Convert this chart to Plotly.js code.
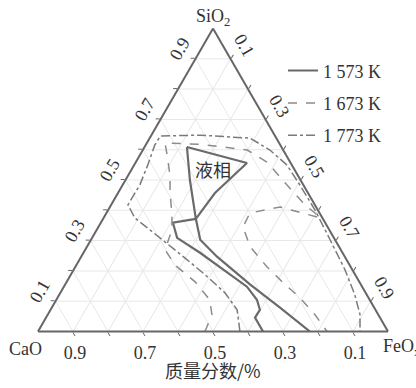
<!DOCTYPE html>
<html>
<head>
<meta charset="utf-8">
<script src="https://cdn.plot.ly/plotly-3.0.1.min.js"></script>
<style>html,body{margin:0;padding:0;background:#fff;}#plot{width:416px;height:388px;}</style>
</head>
<body>
<div id="plot"></div>
<script>
// Ternary values (mass fraction): SiO2 (top), FeOx (right); CaO = remainder
const tickVals = [0.1, 0.2, 0.3, 0.4, 0.5, 0.6, 0.7, 0.8, 0.9];
const tickText = ['0.1', '', '0.3', '', '0.5', '', '0.7', '', '0.9'];
const seriesNames = ['1 573 K', '1 673 K', '1 773 K'];

// 1 573 K – liquid region boundary
const t1573_regionSiO2 = [0.609, 0.500, 0.372, 0.457, 0.556, 0.609];
const t1573_regionFeOx = [0.121, 0.184, 0.265, 0.277, 0.319, 0.121];
// 1 573 K – lower-left branch
const t1573_leftSiO2 = [0.372, 0.359, 0.309, 0.260, 0.148, 0.105, 0.072, 0.046, 0.0];
const t1573_leftFeOx = [0.265, 0.206, 0.243, 0.333, 0.523, 0.573, 0.598, 0.597, 0.643];
// 1 573 K – lower-right branch
const t1573_rightSiO2 = [0.372, 0.303, 0.247, 0.155, 0.079, 0.0];
const t1573_rightFeOx = [0.265, 0.312, 0.388, 0.529, 0.652, 0.777];

// 1 673 K – main contour
const t1673_mainSiO2 = [0.0, 0.056, 0.105, 0.164, 0.220, 0.270, 0.336, 0.391, 0.451, 0.516, 0.582, 0.622, 0.618, 0.599, 0.559, 0.484, 0.418, 0.385];
const t1673_mainFeOx = [0.477, 0.469, 0.438, 0.367, 0.281, 0.228, 0.215, 0.187, 0.152, 0.119, 0.078, 0.052, 0.154, 0.298, 0.375, 0.469, 0.554, 0.605];
// 1 673 K – right loop
const t1673_loopSiO2 = [0.378, 0.411, 0.391, 0.345, 0.280, 0.214, 0.161, 0.112, 0.056, 0.0];
const t1673_loopFeOx = [0.608, 0.486, 0.410, 0.413, 0.466, 0.547, 0.620, 0.692, 0.763, 0.826];

// 1 773 K – contour
const t1773_SiO2 = [0.0, 0.072, 0.128, 0.188, 0.243, 0.309, 0.375, 0.418, 0.484, 0.549, 0.615, 0.645, 0.648, 0.638, 0.599, 0.549, 0.484, 0.401, 0.303, 0.204, 0.122, 0.056, 0.0];
const t1773_FeOx = [0.577, 0.533, 0.470, 0.383, 0.298, 0.194, 0.089, 0.048, 0.049, 0.039, 0.026, 0.027, 0.139, 0.287, 0.363, 0.437, 0.506, 0.591, 0.683, 0.775, 0.844, 0.892, 0.920];

function cao(s, f) { return s.map((v, i) => +(1 - v - f[i]).toFixed(3)); }

const styles = {
  '1 573 K': {color: '#6a6a6a', width: 2.2, dash: 'solid'},
  '1 673 K': {color: '#8c8c8c', width: 1.5, dash: 'dash'},
  '1 773 K': {color: '#7a7a7a', width: 1.5, dash: 'dashdot'}
};

function tr(name, s, f, show) {
  return {
    type: 'scatterternary', mode: 'lines', name: name,
    legendgroup: name, showlegend: show,
    a: s, b: cao(s, f), c: f,
    line: Object.assign({}, styles[name]),
    hoverinfo: 'skip'
  };
}

const data = [
  tr(seriesNames[0], t1573_regionSiO2, t1573_regionFeOx, true),
  tr(seriesNames[0], t1573_leftSiO2, t1573_leftFeOx, false),
  tr(seriesNames[0], t1573_rightSiO2, t1573_rightFeOx, false),
  tr(seriesNames[1], t1673_mainSiO2, t1673_mainFeOx, true),
  tr(seriesNames[1], t1673_loopSiO2, t1673_loopFeOx, false),
  tr(seriesNames[2], t1773_SiO2, t1773_FeOx, true)
];

const FONT = 'Liberation Serif';
const axisBase = {
  tickmode: 'array', tickvals: tickVals, ticktext: tickText,
  ticks: 'outside', ticklen: 4, tickcolor: '#666',
  linecolor: '#666', linewidth: 2, showline: true,
  gridcolor: '#e8e8e8', gridwidth: 1,
  tickfont: {family: FONT, size: 18, color: '#333'},
  title: {text: ''}
};

const layout = {
  width: 416, height: 388,
  margin: {l: 38, r: 28, t: 28, b: 56},
  paper_bgcolor: '#fff',
  font: {family: FONT, color: '#333', size: 18},
  ternary: {
    sum: 1,
    bgcolor: '#fff',
    domain: {x: [0, 1], y: [0, 1]},
    aaxis: Object.assign({}, axisBase, {tickangle: -60}),
    baxis: Object.assign({}, axisBase),
    caxis: Object.assign({}, axisBase, {tickangle: 60})
  },
  showlegend: true,
  legend: {
    x: 0.70, y: 0.92, xanchor: 'left', yanchor: 'top',
    bgcolor: 'rgba(0,0,0,0)', borderwidth: 0,
    font: {family: FONT, size: 18, color: '#333'},
    traceorder: 'grouped', tracegroupgap: 6, itemwidth: 30
  },
  annotations: [
    {text: 'SiO<sub>2</sub>', xref: 'paper', yref: 'paper', x: 0.5, y: 1.078, showarrow: false, font: {family: FONT, size: 18, color: '#333'}},
    {text: 'CaO', xref: 'paper', yref: 'paper', x: -0.0875, y: -0.097, showarrow: false, font: {family: FONT, size: 18, color: '#333'}},
    {text: 'FeO<sub>x</sub>', xref: 'paper', yref: 'paper', x: 0.98, xanchor: 'left', y: -0.097, showarrow: false, font: {family: FONT, size: 18, color: '#333'}},
    {text: '质量分数/%', xref: 'paper', yref: 'paper', x: 0.5, y: -0.175, showarrow: false, font: {family: 'Noto Sans CJK SC', size: 18, color: '#333'}},
    {text: '液相', xref: 'paper', yref: 'paper', x: 0.5, y: 0.535, showarrow: false, font: {family: 'Noto Sans CJK SC', size: 18, color: '#333'}}
  ]
};

Plotly.newPlot('plot', data, layout, {displayModeBar: false, staticPlot: true});
</script>
</body>
</html>
